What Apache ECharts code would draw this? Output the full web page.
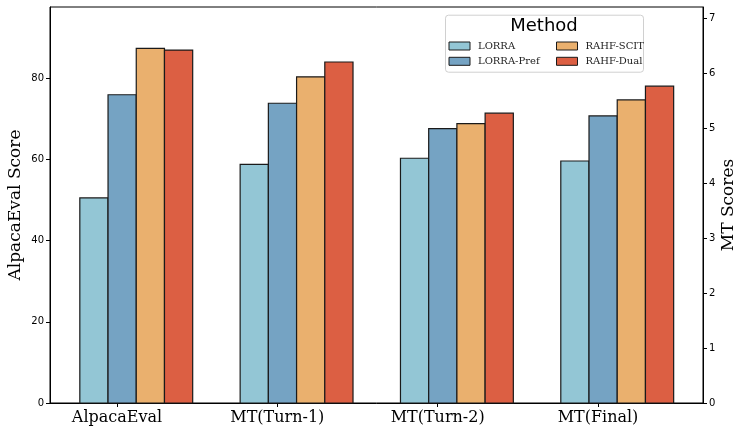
<!DOCTYPE html>
<html>
<head>
<meta charset="utf-8">
<script src="https://cdn.jsdelivr.net/npm/echarts@6/dist/echarts.min.js"></script>
<style>html,body{margin:0;padding:0;background:#fff}#c{width:747px;height:437px}</style>
</head>
<body>
<div id="c"></div>
<script>
// ---- data ----
const categories = ['AlpacaEval', 'MT(Turn-1)', 'MT(Turn-2)', 'MT(Final)'];
const methods = ['LORRA', 'LORRA-Pref', 'RAHF-SCIT', 'RAHF-Dual'];
// first value: AlpacaEval score (left axis); rest: MT scores (right axis)
const lorra     = [50.5, 4.34, 4.45, 4.40];
const lorraPref = [75.9, 5.45, 4.99, 5.22];
const rahfScit  = [87.3, 5.93, 5.08, 5.51];
const rahfDual  = [86.9, 6.20, 5.27, 5.76];
const leftTicks = [0, 20, 40, 60, 80];
const rightTicks = [0, 1, 2, 3, 4, 5, 6, 7];
const colors = ['#93c6d5', '#75a3c3', '#eab06e', '#dc5f43'];

const methodValues = [lorra, lorraPref, rahfScit, rahfDual];
const BAR_W = 0.176, SHIFT = 0.12;

function makeRender(idx) {
  return function (params, api) {
    const x = api.value(0) + SHIFT + (idx - 1.5) * BAR_W;
    const p1 = api.coord([x - BAR_W / 2, api.value(1)]);
    const p2 = api.coord([x + BAR_W / 2, 0]);
    return {
      type: 'rect',
      shape: { x: p1[0], y: p1[1], width: p2[0] - p1[0], height: p2[1] - p1[1] },
      style: { fill: colors[idx], stroke: '#1a1a1a', lineWidth: 1.2 }
    };
  };
}

const series = [];
methods.forEach((m, i) => {
  const vals = methodValues[i];
  series.push({
    type: 'custom', name: m, xAxisIndex: 0, yAxisIndex: 0,
    renderItem: makeRender(i),
    itemStyle: { color: colors[i] },
    data: [[0, vals[0]]]
  });
  series.push({
    type: 'custom', name: m, xAxisIndex: 0, yAxisIndex: 1,
    renderItem: makeRender(i),
    itemStyle: { color: colors[i] },
    data: vals.slice(1).map((v, k) => [k + 1, v])
  });
});

const tickFont = { fontFamily: 'DejaVu Sans', fontSize: 10, color: '#000' };
const serif = 'DejaVu Serif';

const legendCommon = {
  orient: 'vertical', icon: 'rect', itemWidth: 21, itemHeight: 8, itemGap: 3.3, padding: 0,
  itemStyle: { borderColor: '#1a1a1a', borderWidth: 1 },
  textStyle: { fontFamily: serif, fontSize: 10, color: '#222', lineHeight: 12, padding: [0, 0, 0, 3] },
  selectedMode: false
};

const chart = echarts.init(document.getElementById('c'), null, { renderer: 'canvas' });
chart.setOption({
  animation: false,
  backgroundColor: '#fff',
  grid: { left: 50, right: 44, top: 7, bottom: 34, show: true, borderColor: '#000', borderWidth: 1,
          containLabel: false, outerBoundsMode: 'none' },
  xAxis: {
    type: 'value', min: -0.418, max: 3.655,
    axisLine: { show: true, onZero: false, lineStyle: { color: '#000', width: 1 } },
    axisTick: { show: true, length: 4, lineStyle: { color: '#000' }, customValues: [0, 1, 2, 3] },
    axisLabel: {
      customValues: [0, 1, 2, 3], margin: 7,
      formatter: v => categories[Math.round(v)],
      fontFamily: serif, fontSize: 16, color: '#000'
    },
    splitLine: { show: false }
  },
  yAxis: [
    {
      type: 'value', min: 0, max: 97.5, position: 'left',
      name: 'AlpacaEval Score', nameLocation: 'middle', nameGap: 26, nameRotate: 90, nameMoveOverlap: false,
      nameTextStyle: { fontFamily: serif, fontSize: 17, color: '#000' },
      axisLine: { show: true, onZero: false, lineStyle: { color: '#000' } },
      axisTick: { show: true, length: 4, lineStyle: { color: '#000' }, customValues: leftTicks },
      axisLabel: Object.assign({ customValues: leftTicks, margin: 6 }, tickFont),
      splitLine: { show: false }
    },
    {
      type: 'value', min: 0, max: 7.2, position: 'right',
      name: 'MT Scores', nameLocation: 'middle', nameGap: 17, nameRotate: 90, nameMoveOverlap: false,
      nameTextStyle: { fontFamily: serif, fontSize: 17, color: '#000' },
      axisLine: { show: true, onZero: false, lineStyle: { color: '#000' } },
      axisTick: { show: true, length: 4, lineStyle: { color: '#000' }, customValues: rightTicks },
      axisLabel: Object.assign({ customValues: rightTicks, margin: 6 }, tickFont),
      splitLine: { show: false }
    }
  ],
  legend: [
    Object.assign({ left: 448.5, top: 40, data: methods.slice(0, 2) }, legendCommon),
    Object.assign({ left: 556, top: 40, data: methods.slice(2, 4) }, legendCommon)
  ],
  graphic: [
    {
      type: 'rect', left: 445, top: 14.7, z: 0,
      shape: { width: 198, height: 57, r: 3 },
      style: { fill: 'rgba(255,255,255,0.8)', stroke: '#d0d0d0', lineWidth: 1 }
    },
    {
      type: 'text', x: 544, y: 26, z: 1,
      style: { text: 'Method', fontFamily: 'DejaVu Sans', fontSize: 18, fill: '#000', align: 'center', verticalAlign: 'middle' }
    }
  ],
  series: series
});
</script>
</body>
</html>
